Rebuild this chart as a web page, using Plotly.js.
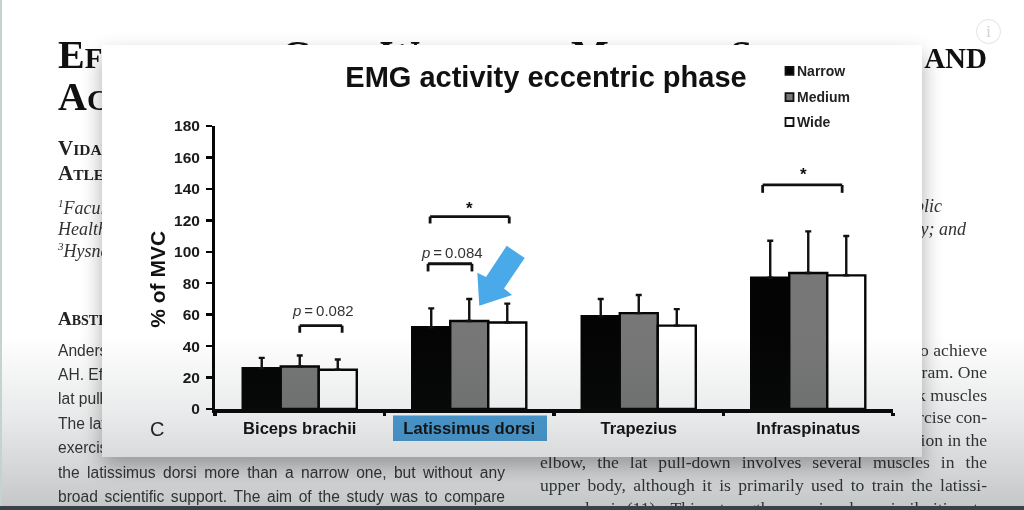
<!DOCTYPE html>
<html><head><meta charset="utf-8">
<script src="https://cdn.plot.ly/plotly-3.0.1.min.js"></script>
<style>
html,body{margin:0;padding:0;background:#fff;width:1024px;height:510px;overflow:hidden}
#page{position:absolute;left:0;top:0;width:1024px;height:510px;overflow:hidden;font-family:"Liberation Serif",serif;color:#111;filter:blur(.45px)}
#page span,#page div.l{position:absolute;white-space:nowrap;line-height:1}
.sc{font-weight:700;font-size:29px;color:#111}
.sc b{font-size:40px}
.au{font-weight:700;font-size:15.5px;color:#222}
.au b{font-size:21px}
.it{font-style:italic;font-size:18px;color:#333}
.sans{font-family:"Liberation Sans",sans-serif;font-size:15.6px;color:#333}
.just{text-align:justify;text-align-last:justify;width:447px;white-space:normal!important}
.serif{font-size:17.6px;color:#333}
.rt{right:37px;text-align:right}
#panel{position:absolute;left:102px;top:45px;width:820px;height:412px;background:#fff;box-shadow:0 10px 20px rgba(0,0,0,.32)}
#chart{position:absolute;left:0;top:0;width:1024px;height:510px;filter:blur(.35px)}
#shade{position:absolute;left:0;top:0;width:1024px;height:510px;pointer-events:none;
 background:linear-gradient(to bottom,rgba(40,50,55,0) 0,rgba(40,50,55,0) 335px,rgba(40,50,55,.11) 420px,rgba(40,50,55,.27) 506px)}
#strip{position:absolute;left:0;top:506px;width:1024px;height:4px;background:#3b4148}
#edge{position:absolute;left:0;top:0;width:2px;height:506px;background:#c3d3cf}
#info{position:absolute;left:976px;top:19px;width:23px;height:23px;border:1.5px solid #e2e2e2;border-radius:50%;color:#cfcfcf;font:16px "Liberation Serif",serif;text-align:center;line-height:23px}
</style></head><body>
<div id="page">
 <span class="sc" style="left:58px;top:35px"><b>E</b>F</span>
 <span class="sc" style="left:281px;top:35px"><b>G</b></span>
 <span class="sc" style="left:380px;top:35px"><b>W</b></span>
 <span class="sc" style="left:571px;top:35px"><b>M</b></span>
 <span class="sc" style="left:730px;top:35px"><b>S</b></span>
 <span class="sc rt" style="top:44px">AND</span>
 <span class="sc" style="left:58px;top:77px"><b>A</b>C</span>
 <span class="au" style="left:58px;top:138px"><b>V</b>IDAR</span>
 <span class="au" style="left:58px;top:163px"><b>A</b>TLE</span>
 <span class="it" style="left:58px;top:198px"><sup style="font-size:11px">1</sup>Faculty</span>
 <span class="it" style="left:58px;top:220px">Health</span>
 <span class="it" style="left:58px;top:241px"><sup style="font-size:11px">3</sup>Hysnes</span>
 <span class="it" style="right:82px;top:197px">Public</span>
 <span class="it" style="right:58px;top:220px">Sociology; and</span>
 <span class="au" style="left:58px;top:309px;font-size:14px"><b style="font-size:19px">A</b>BSTRACT</span>
 <span class="sans" style="left:58px;top:343px">Andersen V</span>
 <span class="sans" style="left:58px;top:367px">AH. Effects</span>
 <span class="sans" style="left:58px;top:391px">lat pull-down</span>
 <span class="sans" style="left:58px;top:416px">The lat</span>
 <span class="sans" style="left:58px;top:440px">exercise</span>
 <div class="l sans just" style="left:58px;top:465px">the latissimus dorsi more than a narrow one, but without any</div>
 <div class="l sans just" style="left:58px;top:489px">broad scientific support. The aim of the study was to compare</div>
 <span class="serif rt" style="top:342px">to achieve</span>
 <span class="serif rt" style="top:364px">program. One</span>
 <span class="serif rt" style="top:387px">back muscles</span>
 <span class="serif rt" style="top:409px">exercise con-</span>
 <span class="serif rt" style="top:432px">flexion in the</span>
 <div class="l serif just" style="left:540px;top:454px">elbow, the lat pull-down involves several muscles in the</div>
 <div class="l serif just" style="left:540px;top:477px">upper body, although it is primarily used to train the latissi-</div>
 <div class="l serif just" style="left:540px;top:500px">mus dorsi (11). This strength exercise has similarities to</div>
</div>
<div id="panel"></div>
<div id="chart"></div>
<div id="shade"></div>
<div id="edge"></div>
<div id="strip"></div>
<div id="info">i</div>
<script>
const categories = ["Biceps brachii","Latissimus dorsi","Trapezius","Infraspinatus"];
const seriesNames = ["Narrow","Medium","Wide"];
const narrow = [26,52,59,83.5];
const medium = [27,56,61,86.5];
const wide   = [25,55,53,85];
const narrowErr = [6.5,12,11,23.5];
const mediumErr = [7,14,11.5,26.5];
const wideErr   = [6.5,12,10.5,25];
const seriesColors = ["#040404","#777777","#ffffff"];
// significance brackets: [x from, x to, y top, y foot] in axis units
const brackets = [[0,0.25,53,48.5],[0.757,1.016,92.4,87.5],[0.769,1.236,122.4,118],[2.731,3.2,142.5,137.5]];
const bracketLabels = [["<i>p</i>\u2009=\u20090.082",0.135,56,],["<i>p</i>\u2009=\u20090.084",0.9,93],["*",1.0,123.8],["*",2.97,145.8]];

const L=215,R=893,T=126,B=409.5,W=1024,H=510;
const fx=p=>(p-L)/(R-L), fy=p=>(B-p)/(B-T);
const SANS='"Liberation Sans",Arial,sans-serif';

const traces=[narrow,medium,wide].map((v,i)=>({
  type:'bar',name:seriesNames[i],x:categories,y:v,
  marker:{color:seriesColors[i],line:{color:'#050505',width:2.4}},
  error_y:{type:'data',symmetric:false,array:[narrowErr,mediumErr,wideErr][i],arrayminus:[0,0,0,0],color:'#111',thickness:2.4,width:3},
  showlegend:false,hoverinfo:'skip'
}));

const shapes=[];
// highlight behind the Latissimus dorsi label
shapes.push({type:'rect',layer:'below',xref:'paper',yref:'paper',x0:fx(393),x1:fx(547),y0:fy(416),y1:fy(441.5),fillcolor:'#4a9dd6',line:{width:0}});
// brackets
brackets.forEach(b=>{
  const ln={color:'#111',width:2.8};
  shapes.push({type:'line',xref:'x',yref:'y',x0:b[0],x1:b[1],y0:b[2],y1:b[2],line:ln});
  shapes.push({type:'line',xref:'x',yref:'y',x0:b[0],x1:b[0],y0:b[2],y1:b[3],line:ln});
  shapes.push({type:'line',xref:'x',yref:'y',x0:b[1],x1:b[1],y0:b[2],y1:b[3],line:ln});
});
// blue arrow callout
const arrow=[[479.3,306],[477.3,273],[486,277.3],[506.7,246],[524.7,258.3],[504,288.7],[512,295.3]];
shapes.push({type:'path',xref:'paper',yref:'paper',
  path:arrow.map((p,i)=>(i?'L':'M')+fx(p[0]).toFixed(4)+','+fy(p[1]).toFixed(4)).join(' ')+' Z',
  fillcolor:'#4aa9e9',line:{width:0}});
// legend swatches
const legendY=[70.7,97,122];
seriesNames.forEach((n,i)=>{
  shapes.push({type:'rect',xref:'paper',yref:'paper',x0:fx(785.5),x1:fx(793.5),y0:fy(legendY[i]-4),y1:fy(legendY[i]+4),
    fillcolor:seriesColors[i],line:{color:'#111',width:1.8}});
});

const annotations=[];
bracketLabels.forEach(a=>{
  const star=a[0]==='*';
  annotations.push({xref:'x',yref:'y',x:a[1],y:a[2],text:a[0],showarrow:false,yanchor:'bottom',yshift:star?-6:0,
    font:{family:SANS,size:star?17:15,color:star?'#111':'#333',weight:star?700:400}});
});
seriesNames.forEach((n,i)=>annotations.push({xref:'paper',yref:'paper',x:fx(795),y:fy(legendY[i]),xanchor:'left',yanchor:'middle',showarrow:false,text:n,
  font:{family:SANS,size:14,color:'#222',weight:700}}));
annotations.push({xref:'paper',yref:'paper',x:fx(157),y:fy(430),xanchor:'center',yanchor:'middle',showarrow:false,text:'C',font:{family:SANS,size:20,color:'#222'}});
annotations.push({xref:'paper',yref:'paper',x:fx(158),y:fy(280),xanchor:'center',yanchor:'middle',showarrow:false,textangle:-90,text:'% of MVC',
  font:{family:SANS,size:21,color:'#111',weight:700}});

Plotly.newPlot('chart',traces,{
  width:W,height:H,autosize:false,
  paper_bgcolor:'rgba(0,0,0,0)',plot_bgcolor:'rgba(0,0,0,0)',
  margin:{l:L,r:W-R,t:T,b:H-B,pad:0},
  barmode:'group',bargap:0.327,bargroupgap:0,
  title:{text:'EMG activity eccentric phase',xref:'paper',yref:'container',x:fx(546),xanchor:'center',y:1-77/H,yanchor:'middle',
    font:{family:SANS,size:29,color:'#111',weight:700}},
  xaxis:{type:'category',categoryorder:'array',categoryarray:categories,range:[-0.5,3.5],showgrid:false,zeroline:false,
    showline:true,linecolor:'#050505',linewidth:4,ticks:'outside',tickson:'boundaries',ticklen:3,tickwidth:3.5,tickcolor:'#050505',ticklabelstandoff:1,
    tickfont:{family:SANS,size:16.6,color:'#111',weight:700},automargin:false},
  yaxis:{range:[0,180],tickvals:[0,20,40,60,80,100,120,140,160,180],showgrid:false,zeroline:false,
    showline:true,linecolor:'#050505',linewidth:3,ticks:'outside',ticklen:6,tickwidth:2.5,tickcolor:'#050505',ticklabelstandoff:3,
    tickfont:{family:SANS,size:15.5,color:'#1a1a1a',weight:700},automargin:false},
  shapes:shapes,annotations:annotations,showlegend:false
},{staticPlot:true,displayModeBar:false});
</script>
</body></html>
